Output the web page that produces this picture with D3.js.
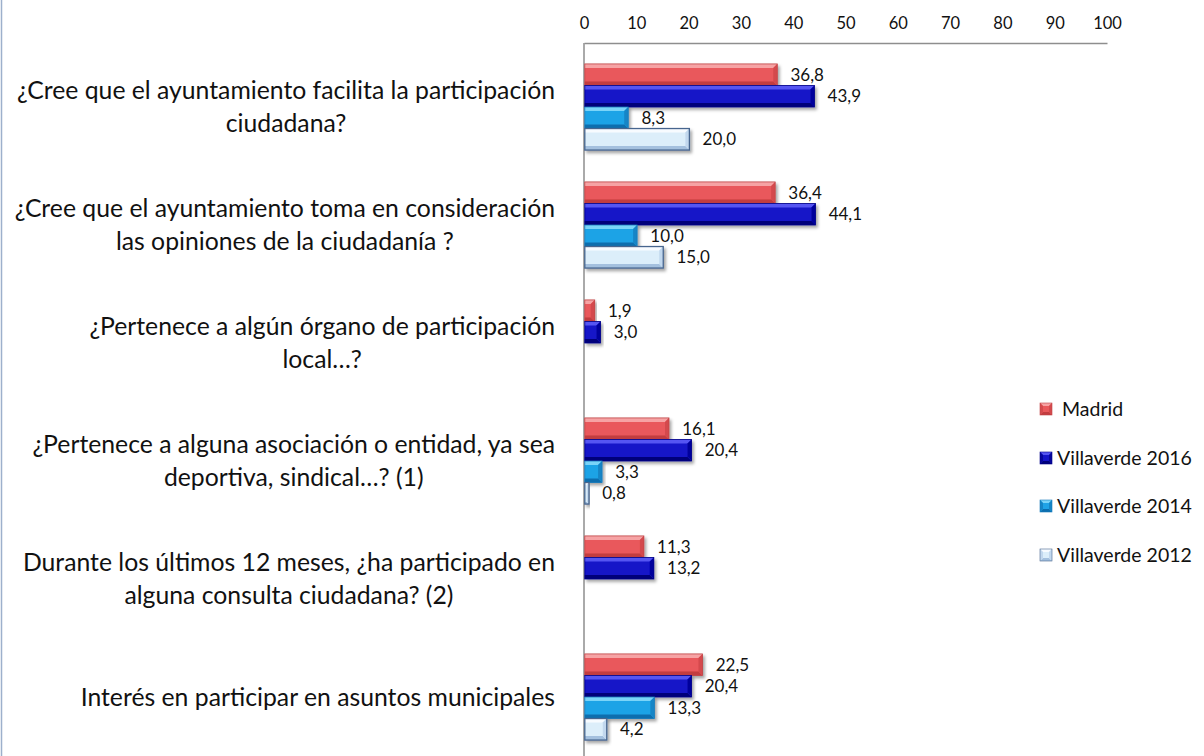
<!DOCTYPE html>
<html>
<head>
<meta charset="utf-8">
<script src="https://cdn.jsdelivr.net/npm/d3@7"></script>
<style>
  html, body { margin: 0; padding: 0; background: #ffffff; }
  svg { display: block; }
  text { font-family: Lato, "Open Sans", "Liberation Sans", sans-serif; fill: #111; }
</style>
</head>
<body>
<svg id="chart" width="1204" height="756"></svg>
<script>
// Survey items (each entry is the list of wrapped lines of the label)
const categories = [
  ["¿Cree que el ayuntamiento facilita la participación", "ciudadana?"],
  ["¿Cree que el ayuntamiento toma en consideración", "las opiniones de la ciudadanía ?"],
  ["¿Pertenece a algún órgano de participación", "local…?"],
  ["¿Pertenece a alguna asociación o entidad, ya sea", "deportiva, sindical…? (1)"],
  ["Durante los últimos 12 meses, ¿ha participado en", "alguna consulta ciudadana? (2)"],
  ["Interés en participar en asuntos municipales"]
];

const seriesNames = ["Madrid", "Villaverde 2016", "Villaverde 2014", "Villaverde 2012"];

// Percentages per series (null = not asked that year)
const madrid   = [36.8, 36.4, 1.9, 16.1, 11.3, 22.5];
const vv2016   = [43.9, 44.1, 3.0, 20.4, 13.2, 20.4];
const vv2014   = [8.3, 10.0, null, 3.3, null, 13.3];
const vv2012   = [20.0, 15.0, null, 0.8, null, 4.2];

const tickValues = [0, 10, 20, 30, 40, 50, 60, 70, 80, 90, 100];

const seriesValues = [madrid, vv2016, vv2014, vv2012];

// Bevel palettes: main face, top highlight, bottom shade, end cap, outline
const palette = [
  { face: "#E9585B", top: "#F6A3A4", bottom: "#C23C3F", end: "#D44A4D", line: "#C04446", lw: 0.8 },
  { face: "#1414C8", top: "#5454F2", bottom: "#00007A", end: "#06069C", line: "#000088", lw: 0.8 },
  { face: "#1FA3E6", top: "#7AD4F8", bottom: "#0C6EAE", end: "#1585C6", line: "#1478B8", lw: 0.8 },
  { face: "#DCEEFA", top: "#F7FBFF", bottom: "#A4C0DE", end: "#C2D8EE", line: "#46658E", lw: 1.3 }
];

const svg = d3.select("#chart");

// Drop shadow for the bars
const defs = svg.append("defs");
const f = defs.append("filter").attr("id", "shadow")
  .attr("x", "-10%").attr("y", "-30%").attr("width", "130%").attr("height", "180%");
f.append("feDropShadow").attr("dx", 2).attr("dy", 2.5).attr("stdDeviation", 1.6)
  .attr("flood-color", "#000").attr("flood-opacity", 0.35);

// Frame edge on the left
svg.append("line")
  .attr("x1", 1.5).attr("x2", 1.5).attr("y1", 0).attr("y2", 756)
  .attr("stroke", "#9DB0CC").attr("stroke-width", 1.5);

const x = d3.scaleLinear().domain([0, 100]).range([584, 1107]);
const y = d3.scaleBand().domain(d3.range(categories.length))
  .range([48, 756]).paddingInner(0.27).paddingOuter(0.135);
const ySub = d3.scaleBand().domain(d3.range(seriesNames.length))
  .range([0, y.bandwidth()]);

// Top value axis
const axisTop = d3.axisTop(x).tickValues(tickValues).tickSize(0).tickPadding(14)
  .tickFormat(d3.format("d"));
const gx = svg.append("g").attr("transform", "translate(0,43)").call(axisTop);
gx.select(".domain").attr("stroke", "#8E8E8E").attr("stroke-width", 1.5);
gx.selectAll("text").style("font-size", "16.5px").attr("fill", "#111")
  .style("font-family", "Lato, 'Open Sans', sans-serif");

// Category axis line
svg.append("line")
  .attr("x1", x(0)).attr("x2", x(0)).attr("y1", 43).attr("y2", 756)
  .attr("stroke", "#8E8E8E").attr("stroke-width", 1.5);

// Draw a bevelled bar as a set of facets
function bevelBar(g, x0, y0, w, h, pal) {
  const b = Math.min(4, h / 4, w / 2);
  const bar = g.append("g").attr("filter", "url(#shadow)");
  bar.append("rect").attr("x", x0).attr("y", y0).attr("width", w).attr("height", h)
    .attr("fill", pal.face);
  // top highlight
  bar.append("polygon").attr("points",
    [[x0, y0], [x0 + w, y0], [x0 + w - b, y0 + b], [x0, y0 + b]].join(" "))
    .attr("fill", pal.top);
  // bottom shade
  bar.append("polygon").attr("points",
    [[x0, y0 + h], [x0 + w, y0 + h], [x0 + w - b, y0 + h - b], [x0, y0 + h - b]].join(" "))
    .attr("fill", pal.bottom);
  // right cap
  bar.append("polygon").attr("points",
    [[x0 + w, y0], [x0 + w, y0 + h], [x0 + w - b, y0 + h - b], [x0 + w - b, y0 + b]].join(" "))
    .attr("fill", pal.end);
  bar.append("rect").attr("x", x0).attr("y", y0).attr("width", w).attr("height", h)
    .attr("fill", "none").attr("stroke", pal.line).attr("stroke-width", pal.lw);
}

const fmt = v => v.toFixed(1).replace(".", ",");

const barsG = svg.append("g");
const labelsG = svg.append("g");
seriesValues.forEach((vals, s) => {
  vals.forEach((v, i) => {
    if (v == null) return;
    const y0 = y(i) + ySub(s);
    const h = ySub.bandwidth();
    bevelBar(barsG, x(0) + 0.8, y0, x(v) - x(0), h, palette[s]);
    labelsG.append("text")
      .attr("x", x(v) + 14)
      .attr("y", y0 + h / 2)
      .attr("dy", "0.35em")
      .style("font-size", "17px")
      .text(fmt(v));
  });
});

// Category labels: block right-aligned at the axis, lines centred within the block
const catG = svg.append("g");
const rightEdge = 555;
const refSize = 20;
const probe = catG.append("text").style("font-size", refSize + "px").text(categories[0][0]);
const fitSize = refSize * 538 / probe.node().getComputedTextLength();
probe.remove();
const lineGap = 33.5;
categories.forEach((lines, i) => {
  const cy = y(i) + y.bandwidth() / 2;
  const texts = lines.map((ln, k) => catG.append("text")
    .style("font-size", fitSize + "px")
    .attr("dy", "0.35em")
    .attr("y", cy + (k - (lines.length - 1) / 2) * lineGap)
    .text(ln));
  const widths = texts.map(t => t.node().getComputedTextLength());
  const maxW = d3.max(widths);
  const centre = rightEdge - maxW / 2;
  texts.forEach(t => t.attr("x", centre).attr("text-anchor", "middle"));
});

// Legend
const legendY = [409, 458, 506, 555];
const legG = svg.append("g");
seriesNames.forEach((name, s) => {
  const ly = legendY[s];
  bevelBarLegend(legG, 1040, ly - 6, 12, 12, palette[s]);
  legG.append("text")
    .attr("x", s === 0 ? 1062 : 1057)
    .attr("y", ly)
    .attr("dy", "0.35em")
    .style("font-size", "19.5px")
    .text(name);
});

function bevelBarLegend(g, x0, y0, w, h, pal) {
  const b = 3;
  g.append("rect").attr("x", x0).attr("y", y0).attr("width", w).attr("height", h).attr("fill", pal.face);
  g.append("polygon").attr("points", [[x0, y0], [x0 + w, y0], [x0 + w - b, y0 + b], [x0 + b, y0 + b]].join(" ")).attr("fill", pal.top);
  g.append("polygon").attr("points", [[x0, y0 + h], [x0 + w, y0 + h], [x0 + w - b, y0 + h - b], [x0 + b, y0 + h - b]].join(" ")).attr("fill", pal.bottom);
  g.append("polygon").attr("points", [[x0 + w, y0], [x0 + w, y0 + h], [x0 + w - b, y0 + h - b], [x0 + w - b, y0 + b]].join(" ")).attr("fill", pal.end);
  g.append("polygon").attr("points", [[x0, y0], [x0, y0 + h], [x0 + b, y0 + h - b], [x0 + b, y0 + b]].join(" ")).attr("fill", pal.end);
  g.append("rect").attr("x", x0).attr("y", y0).attr("width", w).attr("height", h)
    .attr("fill", "none").attr("stroke", pal.line).attr("stroke-width", 0.6);
}
</script>
</body>
</html>
